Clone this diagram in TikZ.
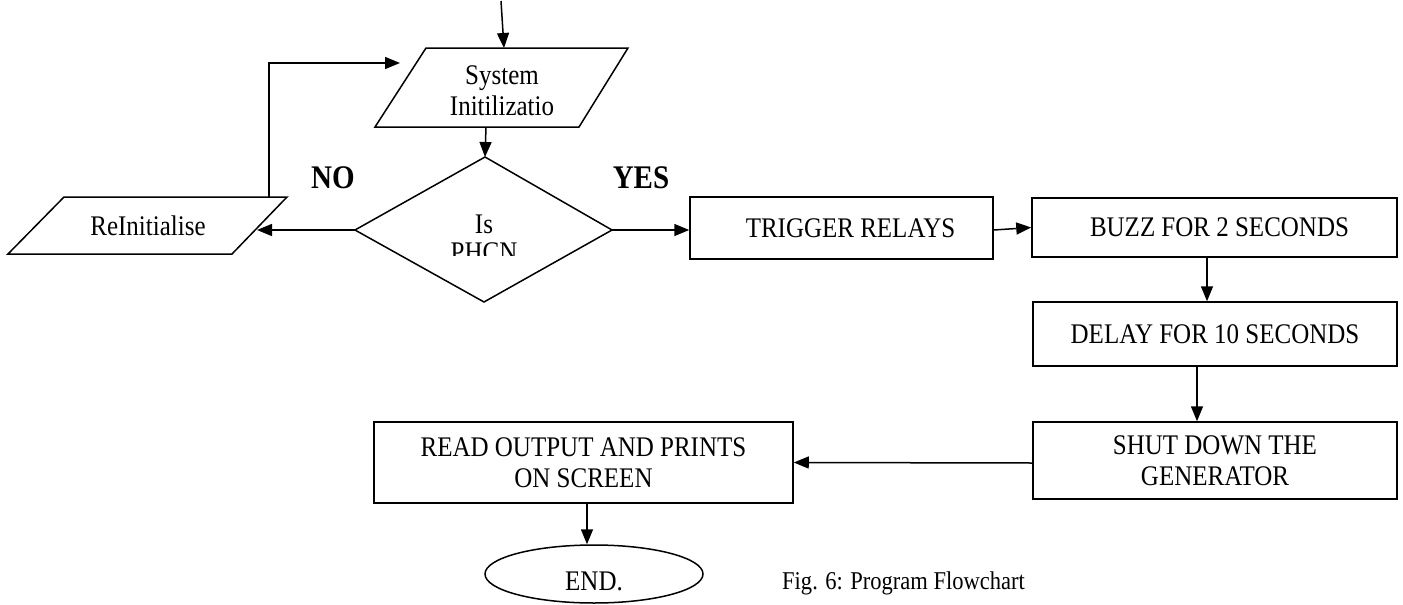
\documentclass[tikz,border=0pt]{standalone}
\usepackage{fontspec}
\setmainfont{Liberation Serif}[FakeStretch=0.88]
\usetikzlibrary{arrows.meta,shapes.geometric}
\begin{document}
\begin{tikzpicture}[x=1pt,y=-1pt,
  every node/.style={font=\fontsize{28.4}{31}\selectfont},
  ln/.style={line width=1.5pt},
  arr/.style={ln,-{Triangle[length=15pt,width=12pt]}},
  box/.style={draw,ln,rectangle,align=center,inner sep=0pt},
  ell/.style={draw,ln,ellipse,inner sep=0pt},
  shp/.style={draw,ln,line join=miter},
  lbl/.style={font=\fontsize{33}{34}\selectfont\bfseries,inner sep=0pt},
  capt/.style={font=\fontsize{25.6}{28}\selectfont,inner sep=0pt,anchor=west}]
\useasboundingbox (0,0) rectangle (1403,605);

% parallelogram: System Initilizatio
\coordinate (s1) at (426,48); \coordinate (s2) at (628,48);
\coordinate (s3) at (579,127); \coordinate (s4) at (375,127);
\draw[shp] (s1) -- (s2) -- (s3) -- (s4) -- cycle;
\node[align=center,inner sep=0pt] (sys) at (502,91) {System\\Initilizatio};
\coordinate (systop) at (504,48);
\coordinate (sysbot) at (486,127);
\coordinate (sysin) at (400,63);
\coordinate (start) at (501,1);

% parallelogram: ReInitialise
\coordinate (r1) at (64,197); \coordinate (r2) at (287,197);
\coordinate (r3) at (232,254); \coordinate (r4) at (8,254);
\draw[shp] (r1) -- (r2) -- (r3) -- (r4) -- cycle;
\node[inner sep=0pt] (reinit) at (148,226) {ReInitialise};
\coordinate (reinitR) at (257,230);
\coordinate (reinitT) at (269,197);

% decision diamond
\coordinate (dT) at (485,157); \coordinate (dR) at (612,230);
\coordinate (dB) at (484,302); \coordinate (dL) at (355,230);
\draw[shp] (dT) -- (dR) -- (dB) -- (dL) -- cycle;
\node[inner sep=0pt] (dIs) at (484,224) {Is};
\begin{scope}
  \clip (400,200) rectangle (570,255.5);
  \node[inner sep=0pt] (dPH) at (484,252.5) {PHCN};
\end{scope}

% process boxes
\node[box,minimum width=303pt,minimum height=62pt] (trig) at (841.5,228) {\hspace*{18pt}TRIGGER RELAYS};
\node[box,minimum width=365pt,minimum height=59pt] (buzz) at (1214.5,227.5) {\hspace*{10pt}BUZZ FOR 2 SECONDS};
\node[box,minimum width=364pt,minimum height=64pt] (delay) at (1215,334) {DELAY FOR 10 SECONDS};
\node[box,minimum width=364pt,minimum height=77pt] (shut) at (1215,460.5) {SHUT DOWN THE\\GENERATOR};
\node[box,minimum width=419pt,minimum height=81pt] (read) at (583.5,462.5) {READ OUTPUT AND PRINTS\\ON SCREEN};
\node[ell,minimum width=218pt,minimum height=58pt,label={[yshift=-7pt]center:END.}] (endn) at (594,574) {};

% labels
\node[lbl] (no) at (333,178) {NO};
\node[lbl] (yes) at (641,178) {YES};
\node[capt] (caption) at (782,583) {Fig. 6: Program Flowchart};

% connectors
\draw[arr] (start) -- (systop);
\draw[arr] (sysbot) -- (dT);
\draw[arr] (dL) -- (reinitR);
\draw[arr] (reinitT) |- (sysin);
\draw[arr] (dR) -- (trig.west |- dR);
\draw[arr] ([yshift=-2pt]trig.east) -- (buzz.west);
\draw[arr] (buzz.south -| 1207,0) -- (delay.north -| 1207,0);
\draw[arr] (delay.south -| 1197,0) -- (shut.north -| 1197,0);
\draw[arr] ([yshift=-2.5pt]shut.west) -- (read.east);
\draw[arr] (read.south -| 587,0) -- (endn.north -| 587,0);
\end{tikzpicture}
\end{document}
